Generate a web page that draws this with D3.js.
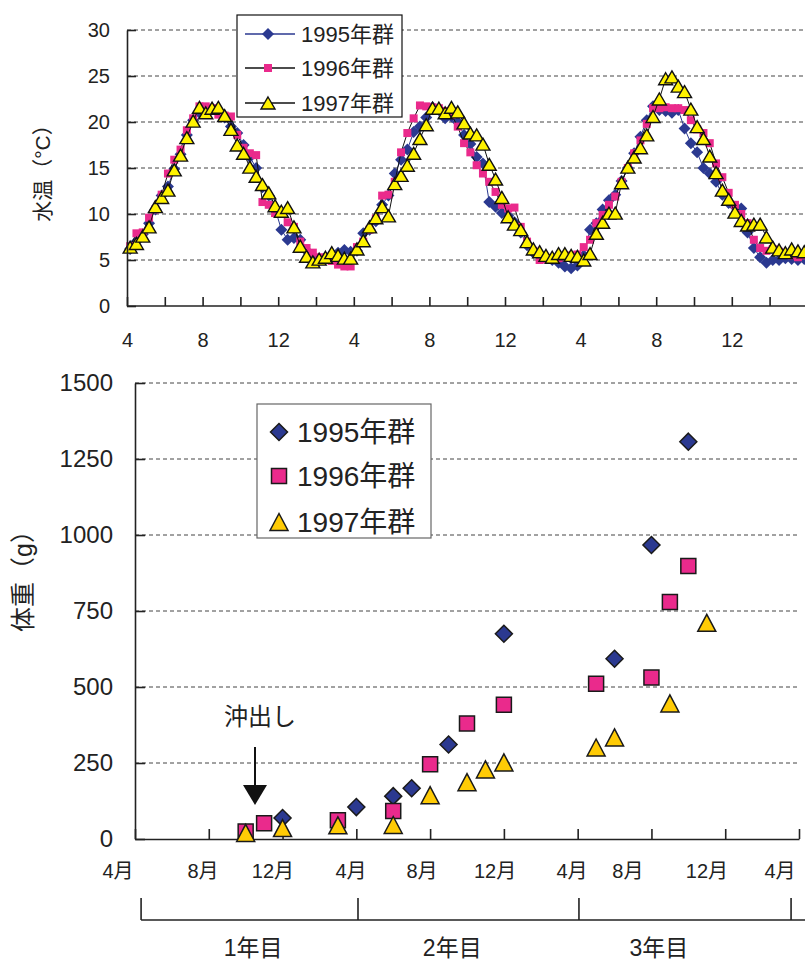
<!DOCTYPE html>
<html>
<head>
<meta charset="utf-8">
<script src="https://cdn.jsdelivr.net/npm/d3@7"></script>
<style>
  body { margin: 0; background: #fff; }
  svg text { font-family: 'Liberation Sans', 'Noto Sans CJK JP', sans-serif; fill: #222; }
</style>
</head>
<body>
<svg id="chart" width="805" height="961"></svg>
<script>
// ---------- data ----------
// 10-day mean water temperature (°C), Apr of year 1 through Mar of year 3, one value per 旬
const temp1995 = [
  6.2, 7.0, 7.8, 9.0, 10.5, 12.0, 13.0, 14.9, 16.5, 18.6, 20.2, 21.0, 21.3, 21.5, 21.2, 20.5, 19.5, 18.8,
  17.5, 16.2, 15.0, 12.9, 12.0, 10.6, 8.3, 7.2, 7.4, 7.2, 6.0, 5.2, 5.0, 5.3, 5.6, 5.8, 6.1, 5.9,
  6.0, 7.9, 8.3, 9.2, 11.0, 12.0, 14.4, 15.9, 17.0, 18.9, 19.5, 20.5, 21.6, 21.3, 20.4, 20.6, 20.0, 18.6,
  17.6, 16.2, 15.5, 11.3, 10.8, 10.1, 9.8, 9.1, 8.0, 6.6, 5.8, 5.6, 5.3, 5.0, 4.7, 4.3, 4.1, 4.4,
  5.5, 8.3, 9.0, 10.5, 11.5, 12.1, 13.6, 15.0, 16.6, 18.4, 20.2, 21.7, 21.3, 21.2, 21.0, 21.3, 19.3, 17.7,
  16.7, 15.0, 14.4, 13.5, 12.1, 11.2, 10.8, 10.6, 8.0, 6.3, 5.3, 4.7, 5.0, 5.0, 5.2, 5.1, 5.0, 5.1
];
const temp1996 = [
  6.5, 7.9, 8.0, 9.6, 10.5, 12.1, 14.4, 15.9, 17.0, 19.1, 20.4, 21.7, 21.7, 21.5, 20.8, 20.7, 20.6, 18.6,
  17.2, 16.6, 16.4, 11.3, 11.0, 10.1, 10.0, 9.1, 8.6, 7.0, 6.3, 5.8, 5.3, 5.0, 4.9, 4.5, 4.3, 4.3,
  6.4, 7.0, 8.3, 9.5, 12.0, 12.1, 13.5, 16.7, 18.8, 20.4, 21.8, 21.7, 21.6, 21.5, 21.2, 20.8, 19.5, 17.7,
  16.7, 15.3, 14.4, 13.5, 12.4, 11.0, 10.6, 10.7, 8.6, 7.0, 6.0, 5.0, 5.1, 5.2, 5.2, 5.4, 5.5, 5.6,
  6.4, 7.2, 9.0, 9.9, 11.0, 11.9, 13.5, 15.0, 16.6, 18.0, 19.8, 21.5, 21.5, 21.6, 21.5, 21.5, 21.3, 20.2,
  19.2, 18.8, 17.7, 15.5, 14.0, 12.3, 11.0, 10.0, 9.0, 7.2, 6.3, 6.0, 6.2, 5.9, 5.6, 5.5, 5.3, 5.5
];
const temp1997 = [
  6.4, 6.8, 7.6, 8.6, 10.8, 11.8, 12.6, 14.8, 16.4, 18.3, 20.1, 21.6, 21.0, 21.5, 21.6, 20.7, 19.2, 17.5,
  16.6, 15.1, 14.1, 13.2, 12.3, 10.9, 10.3, 10.7, 8.6, 6.5, 5.4, 4.8, 5.1, 5.3, 5.8, 5.5, 5.2, 5.2,
  6.2, 7.1, 8.6, 9.6, 10.8, 9.8, 13.3, 14.2, 15.3, 16.6, 18.2, 19.7, 21.5, 21.5, 21.0, 21.6, 21.1, 19.9,
  18.8, 18.6, 17.6, 15.4, 13.8, 11.8, 9.7, 8.9, 8.3, 7.0, 6.2, 5.9, 5.5, 5.3, 5.7, 5.7, 5.5, 5.4,
  5.0, 5.7, 7.9, 9.1, 10.1, 10.1, 13.4, 15.1, 16.2, 17.2, 18.6, 20.6, 22.5, 24.7, 24.9, 23.9, 23.3, 21.4,
  19.5, 18.2, 16.3, 14.5, 12.6, 11.6, 10.2, 9.3, 8.8, 8.9, 8.9, 7.5, 6.4, 6.1, 5.8, 6.2, 6.0, 5.9
];

// body weight (g): months counted from April of year 1
const months1995 = [8, 12, 14, 15, 17, 20, 26, 28, 30];
const weight1995 = [69, 105, 141, 167, 311, 675, 593, 967, 1307];
const months1996 = [6, 7, 11, 14, 16, 18, 20, 25, 28, 29, 30];
const weight1996 = [25, 52, 62, 92, 246, 380, 442, 511, 531, 780, 898];
const months1997 = [6, 8, 11, 14, 16, 18, 19, 20, 25, 26, 29, 31];
const weight1997 = [20, 36, 45, 46, 144, 187, 229, 252, 301, 334, 446, 711];

const seriesNames = ["1995年群", "1996年群", "1997年群"];
const tempTicks = [0, 5, 10, 15, 20, 25, 30];
const topMonthLabels = ["4", "8", "12", "4", "8", "12", "4", "8", "12"];
const weightTicks = [0, 250, 500, 750, 1000, 1250, 1500];
const monthLabels = ["4月", "8月", "12月", "4月", "8月", "12月", "4月", "8月", "12月", "4月"];
const monthLabelAt = [-0.92, 3.69, 7.48, 11.71, 15.56, 19.52, 23.69, 26.72, 31.01, 34.97];
const yearLabels = ["1年目", "2年目", "3年目"];
const yearLabelAt = [6.4, 17.2, 28.4];
const yearEdges = [0.33, 12.09, 24.07, 35.57];

// ---------- styles ----------
const BLUE = "#2B3990", PINK = "#EA2A8C", YELLOW_T = "#FFF200", YELLOW_B = "#FFCB05", INK = "#222";

const svg = d3.select("#chart");

// marker path builders
const diamond = (w, h) => `M0,${-h}L${w},0L0,${h}L${-w},0Z`;
const square = s => `M${-s},${-s}H${s}V${s}H${-s}Z`;
const triangle = (w, h) => `M0,${-h / 2}L${w / 2},${h / 2}L${-w / 2},${h / 2}Z`;

// ================= upper panel: water temperature =================
const xT = d3.scaleLinear().domain([0, 36]).range([127, 127 + 36 * 18.9]);
const yT = d3.scaleLinear().domain([0, 30]).range([306, 30]);
const gTemp = svg.append("g");

gTemp.append("g").selectAll("line").data(tempTicks.filter(d => d > 0)).join("line")
  .attr("x1", xT(0)).attr("x2", 805)
  .attr("y1", d => yT(d)).attr("y2", d => yT(d))
  .attr("stroke", "#444").attr("stroke-width", 1).attr("stroke-dasharray", "4,3");

const tX = i => xT((i + 0.5) / 3);
const lineT = d3.line().x((d, i) => tX(i)).y(d => yT(d));

const tempSeries = [
  { vals: temp1995, line: BLUE, draw: g => g.attr("d", diamond(6, 6)).attr("fill", BLUE) },
  { vals: temp1996, line: "#111", draw: g => g.attr("d", square(4)).attr("fill", PINK) },
  { vals: temp1997, line: "#111", draw: g => g.attr("d", triangle(14, 12)).attr("fill", YELLOW_T).attr("stroke", "#111").attr("stroke-width", 1.4) }
];

tempSeries.forEach(s => {
  gTemp.append("path").datum(s.vals).attr("d", lineT)
    .attr("fill", "none").attr("stroke", s.line).attr("stroke-width", 1);
  gTemp.append("g").selectAll("path").data(s.vals).join("path")
    .attr("transform", (d, i) => `translate(${tX(i)},${yT(d)})`)
    .call(s.draw);
});

// axes
const axTLeft = gTemp.append("g").attr("transform", `translate(${xT(0)},0)`)
  .call(d3.axisLeft(yT).tickValues(tempTicks).tickFormat(d3.format("d"))
    .tickSizeInner(-9).tickSizeOuter(0).tickPadding(17));
const axTBottom = gTemp.append("g").attr("transform", `translate(0,${yT(0)})`)
  .call(d3.axisBottom(xT).tickValues(d3.range(0, 35, 2)).tickSizeInner(-9).tickSizeOuter(0).tickPadding(27)
    .tickFormat(m => (m % 4 === 0 ? topMonthLabels[m / 4] : "")));
axTBottom.select(".domain").attr("d", `M${xT(0)},0H805`);
[axTLeft, axTBottom].forEach(a => {
  a.selectAll("path, line").attr("stroke", INK).attr("stroke-width", 1.6);
  a.selectAll("text").attr("font-size", 20).attr("fill", INK);
});

gTemp.append("text")
  .attr("transform", "translate(50,168) rotate(-90)")
  .attr("text-anchor", "middle").attr("font-size", 21)
  .text("水温（°C）");

// legend
const legT = gTemp.append("g");
legT.append("rect").attr("x", 237).attr("y", 15).attr("width", 165).attr("height", 102)
  .attr("fill", "#fff").attr("stroke", "#111").attr("stroke-width", 1.2);
const legTy = [34, 68, 103];
tempSeries.forEach((s, k) => {
  legT.append("line").attr("x1", 245).attr("x2", 295).attr("y1", legTy[k]).attr("y2", legTy[k])
    .attr("stroke", s.line).attr("stroke-width", 1.5);
  legT.append("path").attr("transform", `translate(268,${legTy[k]})`).call(s.draw);
  legT.append("text").attr("x", 301).attr("y", legTy[k]).attr("dy", "0.36em")
    .attr("font-size", 22).text(seriesNames[k]);
});

// ================= lower panel: body weight =================
const xB = d3.scaleLinear().domain([0, 36]).range([135, 799]);
const yB = d3.scaleLinear().domain([0, 1500]).range([839, 383]);
const gWt = svg.append("g");

gWt.append("g").selectAll("line").data(weightTicks.filter(d => d > 0)).join("line")
  .attr("x1", xB(0)).attr("x2", 800)
  .attr("y1", d => yB(d)).attr("y2", d => yB(d))
  .attr("stroke", "#444").attr("stroke-width", 1).attr("stroke-dasharray", "4,3");

// legend box (sits over the grid)
const legB = gWt.append("g");
legB.append("rect").attr("x", 257).attr("y", 404).attr("width", 174).attr("height", 134)
  .attr("fill", "#fff").attr("stroke", "#666").attr("stroke-width", 1.2);

const axBLeft = gWt.append("g").attr("transform", `translate(${xB(0)},0)`)
  .call(d3.axisLeft(yB).tickValues(weightTicks).tickFormat(d3.format("d"))
    .tickSizeInner(-10).tickSizeOuter(0).tickPadding(22));
const axBBottom = gWt.append("g").attr("transform", `translate(0,${yB(0)})`)
  .call(d3.axisBottom(xB).tickValues(d3.range(0, 37, 4)).tickSizeInner(-10).tickSizeOuter(0).tickFormat(""));
[axBLeft, axBBottom].forEach(a => {
  a.selectAll("path, line").attr("stroke", INK).attr("stroke-width", 1.6);
  a.selectAll("text").attr("font-size", 24).attr("fill", INK);
});

gWt.append("g").selectAll("text").data(monthLabels).join("text")
  .attr("x", (d, i) => xB(monthLabelAt[i])).attr("y", 871).attr("dy", "0.36em")
  .attr("text-anchor", "middle").attr("font-size", 20).text(d => d);

gWt.append("text")
  .attr("transform", "translate(32,575) rotate(-90)")
  .attr("text-anchor", "middle").attr("font-size", 25)
  .text("体重（g）");

const weightSeries = [
  { m: months1995, v: weight1995, draw: g => g.attr("d", diamond(8.5, 8.5)).attr("fill", BLUE) },
  { m: months1996, v: weight1996, draw: g => g.attr("d", square(7.5)).attr("fill", PINK) },
  { m: months1997, v: weight1997, draw: g => g.attr("d", triangle(18, 17)).attr("fill", YELLOW_B) }
];
weightSeries.forEach(s => {
  gWt.append("g").selectAll("path").data(s.v).join("path")
    .attr("transform", (d, i) => `translate(${xB(s.m[i])},${yB(d)})`)
    .call(s.draw).attr("stroke", "#1a1a1a").attr("stroke-width", 1.5);
});

const legBy = [432, 476, 522];
weightSeries.forEach((s, k) => {
  legB.append("path").attr("transform", `translate(279,${legBy[k]})`)
    .call(s.draw).attr("stroke", "#1a1a1a").attr("stroke-width", 1.5);
  legB.append("text").attr("x", 297).attr("y", legBy[k]).attr("dy", "0.36em")
    .attr("font-size", 28).text(seriesNames[k]);
});

// release annotation
gWt.append("text").attr("x", 260).attr("y", 716).attr("dy", "0.36em")
  .attr("text-anchor", "middle").attr("font-size", 24).text("沖出し");
gWt.append("line").attr("x1", 255).attr("x2", 255).attr("y1", 747).attr("y2", 787)
  .attr("stroke", "#111").attr("stroke-width", 2);
gWt.append("path").attr("d", "M243,785L267,785L255,805Z").attr("fill", "#111");

// year brackets
const br = gWt.append("g").attr("stroke", INK).attr("stroke-width", 1.6);
br.append("line").attr("x1", xB(yearEdges[0])).attr("x2", 805).attr("y1", 920).attr("y2", 920);
br.selectAll("line.v").data(yearEdges).join("line").attr("class", "v")
  .attr("x1", d => xB(d)).attr("x2", d => xB(d)).attr("y1", 898).attr("y2", 920);
gWt.append("g").selectAll("text").data(yearLabels).join("text")
  .attr("x", (d, i) => xB(yearLabelAt[i])).attr("y", 948).attr("dy", "0.36em")
  .attr("text-anchor", "middle").attr("font-size", 23).text(d => d);
</script>
</body>
</html>
